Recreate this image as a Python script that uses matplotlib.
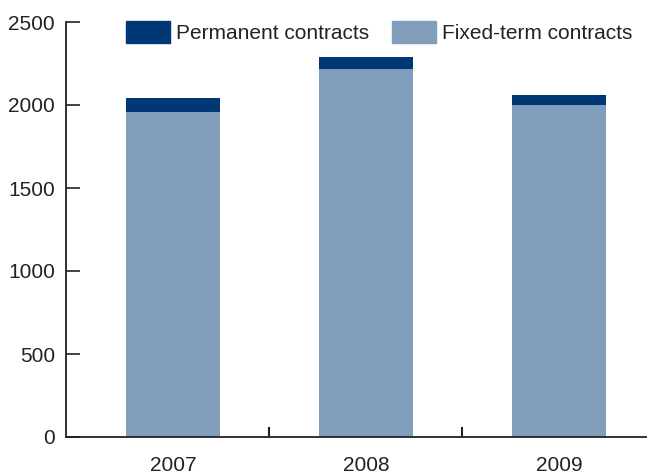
import matplotlib
matplotlib.use("Agg")
from matplotlib import pyplot as plt
from matplotlib.patches import Patch

years = ["2007", "2008", "2009"]
fixed_term = [1960, 2217, 2000]
permanent = [82, 72, 60]

dark_blue = "#003876"
light_blue = "#809ebb"

plt.rcParams["font.family"] = ["Liberation Sans", "DejaVu Sans"]
plt.rcParams["font.size"] = 15

fig = plt.figure(figsize=(6.47, 4.75), dpi=100)
ax = fig.add_axes([66 / 647, 38 / 475, 581 / 647, 415 / 475])

x = list(range(len(years)))
ax.bar(x, fixed_term, width=0.49, color=light_blue, zorder=2)
ax.bar(x, permanent, width=0.49, bottom=fixed_term, color=dark_blue, zorder=2)

ax.set_xlim(-0.554, 2.456)
ax.set_ylim(0, 2500)
ax.set_yticks([0, 500, 1000, 1500, 2000, 2500])

# category labels sit under each bar, tick marks go between bars
ax.set_xticks(x)
ax.set_xticklabels(years)
ax.tick_params(axis="x", which="major", length=0, pad=14, labelsize=15, colors="#222222")
ax.set_xticks([0.5, 1.5], minor=True)
ax.tick_params(axis="x", which="minor", direction="in", length=7.5, width=1.5, color="#222222")
ax.tick_params(axis="y", direction="in", length=10, width=1.2, pad=8, labelsize=15,
               colors="#222222")

for side in ["top", "right"]:
    ax.spines[side].set_visible(False)
for side in ["left", "bottom"]:
    ax.spines[side].set_linewidth(1.3)
    ax.spines[side].set_color("#222222")
ax.spines["bottom"].set_zorder(3)

handles = [Patch(color=dark_blue, label="Permanent contracts"),
           Patch(color=light_blue, label="Fixed-term contracts")]
fig.legend(handles=handles, loc="upper left", bbox_to_anchor=(118 / 647, 1 - 13 / 475),
           ncol=2, frameon=False, fontsize=15, handlelength=2.1, handleheight=1.2,
           handletextpad=0.3, columnspacing=1.1, borderaxespad=0, labelcolor="#222222")

fig.savefig("out.png", dpi=100)
